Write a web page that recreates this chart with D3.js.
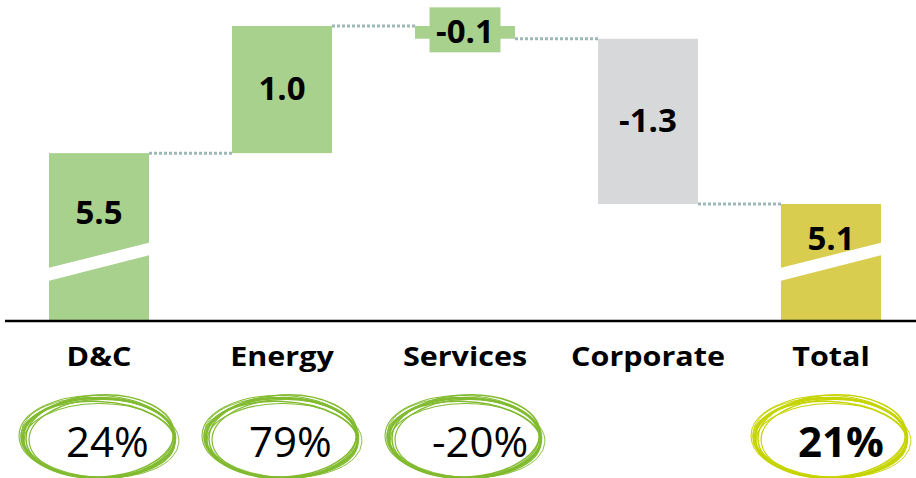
<html>
<head>
<script src="https://cdn.jsdelivr.net/npm/d3@7"></script>
<style>
  body { margin: 0; background: #fff; }
  text { font-family: "Open Sans", sans-serif; }
</style>
</head>
<body>
<div id="chart"></div>
<script>
// waterfall data
const categories = ["D&C", "Energy", "Services", "Corporate", "Total"];
const deltas = [5.5, 1.0, -0.1, -1.3, 5.1];
const isTotal = [true, false, false, false, true];
const valueLabels = ["5.5", "1.0", "-0.1", "-1.3", "5.1"];
const growth = ["24%", "79%", "-20%", "", "21%"];

const width = 916, height = 478;
const axisY = 321;

const barColor = ["#a9d18e", "#a9d18e", "#a9d18e", "#d7d8da", "#d9cd50"];
const ringColor = ["#82bb30", "#82bb30", "#82bb30", null, "#c6d400"];
const connColor = "#9db8b7";

// running totals
let run = 0;
const bars = categories.map((c, i) => {
  let start, end;
  if (isTotal[i]) { start = 0; end = deltas[i]; }
  else { start = run; end = run + deltas[i]; }
  run = end;
  return {cat: c, i, start, end, label: valueLabels[i], pct: growth[i]};
});

const svg = d3.select("#chart").append("svg")
  .attr("width", width).attr("height", height);

const x = d3.scaleBand()
  .domain(categories)
  .range([7.5, 922.5])
  .paddingInner(83 / 183)
  .paddingOuter(83 / 366);

// axis is broken, so the value scale only covers the top part
const y = d3.scaleLinear().domain([5.1, 6.5]).range([204, 26]);

const barTop = d => y(Math.max(d.start, d.end));
const barBottom = d => d.start === 0 ? axisY : y(Math.min(d.start, d.end));

// connectors
const conn = svg.append("g")
  .attr("stroke", connColor)
  .attr("stroke-width", 3)
  .attr("stroke-dasharray", "3,2");
bars.slice(0, -1).forEach((d, i) => {
  conn.append("line")
    .attr("x1", x(d.cat) + x.bandwidth())
    .attr("x2", x(bars[i + 1].cat))
    .attr("y1", y(d.end))
    .attr("y2", y(d.end));
});

// bars
svg.append("g").selectAll("rect")
  .data(bars)
  .join("rect")
  .attr("x", d => x(d.cat))
  .attr("width", x.bandwidth())
  .attr("y", barTop)
  .attr("height", d => barBottom(d) - barTop(d))
  .attr("fill", d => barColor[d.i]);

// break marks on bars that start at zero
const brk = svg.append("g").attr("fill", "#fff");
bars.filter(d => d.start === 0).forEach(d => {
  const x0 = x(d.cat) - 1, x1 = x(d.cat) + x.bandwidth() + 1;
  brk.append("path")
    .attr("d", `M${x0},${268}L${x1},${242.5}L${x1},${255}L${x0},${281}Z`);
});

// label box for the small services bar
const small = bars.filter(d => Math.abs(d.end - d.start) < 0.2);
svg.append("g").selectAll("rect")
  .data(small)
  .join("rect")
  .attr("x", d => x(d.cat) + x.bandwidth() / 2 - 35.5)
  .attr("width", 71)
  .attr("y", d => (barTop(d) + barBottom(d)) / 2 - 25)
  .attr("height", 45)
  .attr("fill", d => barColor[d.i]);

// value labels
svg.append("g").selectAll("text")
  .data(bars)
  .join("text")
  .attr("x", d => x(d.cat) + x.bandwidth() / 2)
  .attr("y", d => {
    if (d.start === 0) return Math.max(barTop(d) + 23, (barTop(d) + 256) / 2 + 8);
    return (barTop(d) + barBottom(d)) / 2 - 1;
  })
  .attr("dy", "0.36em")
  .attr("text-anchor", "middle")
  .attr("font-size", 33)
  .attr("font-weight", 700)
  .attr("fill", "#000")
  .text(d => d.label);

// baseline
svg.append("line")
  .attr("x1", 5).attr("x2", width)
  .attr("y1", axisY).attr("y2", axisY)
  .attr("stroke", "#000")
  .attr("stroke-width", 2.5);

// category labels
svg.append("g").selectAll("text")
  .data(bars)
  .join("text")
  .attr("transform", d => `translate(${x(d.cat) + x.bandwidth() / 2},366) scale(1.13,1)`)
  .attr("text-anchor", "middle")
  .attr("font-size", 27)
  .attr("font-weight", 700)
  .text(d => d.cat);

// hand-drawn rings round the growth figures
const strokes = [
  {dx: 0, dy: 0, rx: 0, ry: 0, rot: 0, w: 2.6},
  {dx: 1, dy: -2, rx: -2, ry: 1, rot: -3, w: 1.5},
  {dx: -1, dy: 1.5, rx: 1, ry: -2, rot: 2.5, w: 1.5},
  {dx: 2, dy: 0.5, rx: -4, ry: -1, rot: -1.5, w: 1.2},
  {dx: -2, dy: -1, rx: 2, ry: 1.5, rot: 1.2, w: 1.1},
  {dx: 0, dy: 2.5, rx: -1, ry: -3, rot: -0.5, w: 1.1},
  {dx: 1, dy: -0.5, rx: 3, ry: 0, rot: 3.5, w: 0.9}
];
const rings = svg.append("g");
bars.filter(d => d.pct).forEach(d => {
  const cx = x(d.cat) + x.bandwidth() / 2, cy = 438;
  const g = rings.append("g");
  g.selectAll("ellipse")
    .data(strokes)
    .join("ellipse")
    .attr("cx", s => cx + s.dx)
    .attr("cy", s => cy + s.dy)
    .attr("rx", s => 76 + s.rx)
    .attr("ry", s => 40 + s.ry)
    .attr("transform", s => `rotate(${s.rot},${cx},${cy})`)
    .attr("fill", "none")
    .attr("stroke", ringColor[d.i])
    .attr("stroke-width", s => s.w);
  g.append("text")
    .attr("x", cx - 33)
    .attr("y", 457)
    .attr("font-size", 42)
    .attr("font-weight", isTotal[d.i] && d.i > 0 ? 700 : 400)
    .text(d.pct);
});
</script>
</body>
</html>
